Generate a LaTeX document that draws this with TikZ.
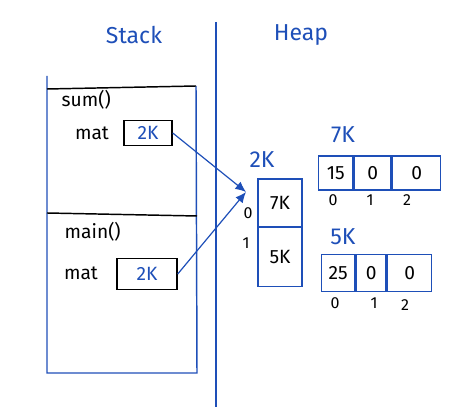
\documentclass[tikz,border=0pt]{standalone}
\usepackage{fontspec}
\setmainfont{Fira Sans}
\usetikzlibrary{arrows.meta}
\definecolor{pen}{HTML}{1E4FB8}
\tikzset{
  bl/.style={draw=pen, line width=1.1pt},
  bk/.style={draw=black, line width=1.1pt},
  blt/.style={text=pen, font=\LARGE},
  bkt/.style={text=black, font=\Large},
  idx/.style={text=black, font=\large},
  cell/.style={draw=pen, line width=1.1pt, minimum height=25.5pt, inner sep=0pt, font=\Large},
  ptr/.style={draw=pen, line width=0.9pt, -{Latex[length=8pt,width=7pt]}},
}
\begin{document}
\begin{tikzpicture}[x=0.75pt,y=-0.75pt]
\useasboundingbox (0,0) rectangle (472,409);
% titles
\node[blt] (stack) at (134,35) {Stack};
\node[blt] (heap) at (301,35) {Heap};
% divider
\coordinate (dtop) at (216,22);
\coordinate (dbot) at (216,407);
\draw[bl] (dtop) -- (dbot);
% stack box
\coordinate (s1) at (47,76);
\coordinate (s2) at (47,373);
\coordinate (s3) at (197,373);
\coordinate (s4) at (196,86);
\draw[bl] (s1) -- (s2) -- (s3) -- (s4);
\coordinate (t1) at (47,89);
\coordinate (t2) at (196,86);
\draw[bk] (t1) -- (t2);
\coordinate (m1) at (47,213);
\coordinate (m2) at (197,216);
\draw[bk] (m1) -- (m2);
% frames
\node[bkt, anchor=west] (sumf) at (57,100) {sum()};
\node[bkt] (mat1) at (92,133) {mat};
\node[bk, minimum width=36pt, minimum height=19pt, inner sep=0pt, text=pen, font=\Large] (p1) at (148,133) {2K};
\node[bkt, anchor=west] (mainf) at (60,232) {main()};
\node[bkt] (mat2) at (81,273) {mat};
\node[bk, minimum width=45pt, minimum height=23pt, inner sep=0pt, text=pen, font=\Large] (p2) at (147,274) {2K};
% heap vertical array
\node[blt] (lab2k) at (262,160) {2K};
\node[cell, minimum width=33pt, minimum height=36pt] (c0) at (280,203) {7K};
\node[cell, minimum width=33pt, minimum height=44pt] (c1) at (280,257) {5K};
\node[idx] (i0) at (248,213) {0};
\node[idx] (i1) at (246,243) {1};
% arrows
\coordinate (tip) at (246,192);
\draw[ptr] (p1.east) -- (tip);
\draw[ptr] (p2.east) -- (tip);
% 7K array
\node[blt] (lab7k) at (343,135) {7K};
\node[cell, minimum width=25.5pt, anchor=west] (a0) at (318,173) {15};
\node[cell, minimum width=27.75pt, anchor=west] (a1) at (a0.east) {0};
\node[cell, minimum width=36pt, anchor=west] (a2) at (a1.east) {0};
\node[idx] (ai0) at (333,200) {0};
\node[idx] (ai1) at (370,200) {1};
\node[idx] (ai2) at (407,200) {2};
% 5K array
\node[blt] (lab5k) at (343,237) {5K};
\node[cell, minimum width=24.75pt, minimum height=28pt, anchor=west] (b0) at (321,273) {25};
\node[cell, minimum width=22.5pt, minimum height=28pt, anchor=west] (b1) at (b0.east) {0};
\node[cell, minimum width=33pt, minimum height=28pt, anchor=west] (b2) at (b1.east) {0};
\node[idx] (bi0) at (335,303) {0};
\node[idx] (bi1) at (374,303) {1};
\node[idx] (bi2) at (405,305) {2};
\end{tikzpicture}
\end{document}
